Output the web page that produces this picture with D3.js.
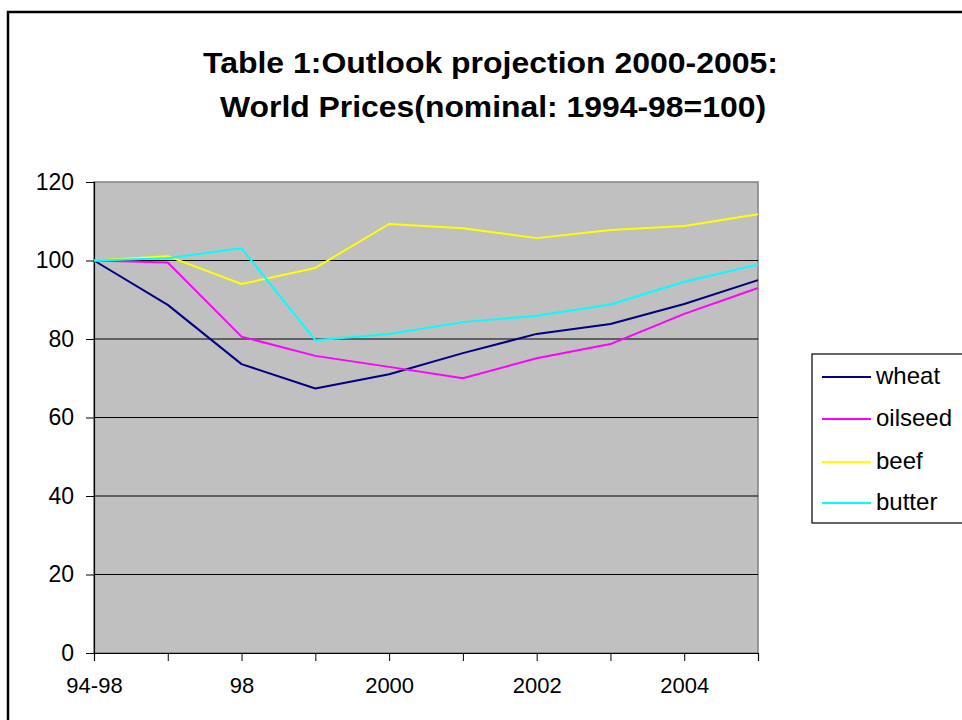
<!DOCTYPE html>
<html>
<head>
<meta charset="utf-8">
<script src="https://cdn.jsdelivr.net/npm/d3@7"></script>
<style>
  html, body { margin: 0; padding: 0; background: #fff; }
  svg { display: block; }
  text { font-family: "Liberation Sans", Arial, sans-serif; }
</style>
</head>
<body>
<svg id="chart" width="962" height="720"></svg>
<script>
const categories = ["94-98", "97", "98", "99", "2000", "2001", "2002", "2003", "2004", "2005"];
const tickLabels = ["94-98", "", "98", "", "2000", "", "2002", "", "2004", ""];
const seriesNames = ["wheat", "oilseed", "beef", "butter"];
const wheat   = [100, 88.7, 73.6, 67.4, 71.0, 76.4, 81.3, 83.8, 88.9, 95.0];
const oilseed = [100, 99.5, 80.6, 75.7, 72.9, 70.0, 75.1, 78.7, 86.4, 93.0];
const beef    = [100, 101.1, 94.0, 98.1, 109.3, 108.2, 105.7, 107.8, 108.8, 111.8];
const butter  = [100, 100.6, 103.1, 79.7, 81.3, 84.3, 85.9, 88.8, 94.6, 99.0];
const yTicks = [0, 20, 40, 60, 80, 100, 120];
const colors = ["#000080", "#FF00FF", "#FFFF00", "#00FFFF"];
const titleLines = ["Table 1:Outlook projection 2000-2005:", "World Prices(nominal: 1994-98=100)"];

const seriesValues = [wheat, oilseed, beef, butter];
const svg = d3.select("#chart");

// outer frame (extends past right/bottom edge)
svg.append("rect").attr("x", 8).attr("y", 12).attr("width", 1000).attr("height", 800)
  .attr("fill", "#fff").attr("stroke", "#000").attr("stroke-width", 2.5);

// title
const titleG = svg.append("g");
titleG.append("text").attr("x", 490.5).attr("y", 73).attr("text-anchor", "middle")
  .attr("font-size", 29).attr("font-weight", "bold")
  .attr("textLength", 575).attr("lengthAdjust", "spacingAndGlyphs").text(titleLines[0]);
titleG.append("text").attr("x", 493).attr("y", 117).attr("text-anchor", "middle")
  .attr("font-size", 29).attr("font-weight", "bold")
  .attr("textLength", 546).attr("lengthAdjust", "spacingAndGlyphs").text(titleLines[1]);

const x = d3.scalePoint().domain(categories).range([94, 758]);
const y = d3.scaleLinear().domain([0, 120]).range([653, 182]);

// plot background
svg.append("rect").attr("x", x.range()[0]).attr("y", y(120))
  .attr("width", x.range()[1] - x.range()[0]).attr("height", y(0) - y(120))
  .attr("fill", "#C0C0C0").attr("stroke", "#808080").attr("stroke-width", 1.5);

// gridlines
svg.append("g").selectAll("line").data(yTicks.filter(d => d > 0 && d < 120)).join("line")
  .attr("x1", x.range()[0]).attr("x2", x.range()[1])
  .attr("y1", d => y(d)).attr("y2", d => y(d))
  .attr("stroke", "#000").attr("stroke-width", 1.2);

// y axis
const yAxis = svg.append("g").attr("transform", `translate(${x.range()[0]},0)`)
  .call(d3.axisLeft(y).tickValues(yTicks).tickSize(8).tickPadding(12));
yAxis.select(".domain").attr("stroke", "#000").attr("stroke-width", 1.2);
yAxis.selectAll(".tick line").attr("stroke", "#000");
yAxis.selectAll(".tick text").attr("font-size", 23).attr("fill", "#000")
  .style("font-family", "'Liberation Sans', Arial, sans-serif");

// x axis
const xAxis = svg.append("g").attr("transform", `translate(0,${y(0)})`)
  .call(d3.axisBottom(x).tickSize(8).tickPadding(16).tickFormat((d, i) => tickLabels[i]));
xAxis.select(".domain").attr("stroke", "#000").attr("stroke-width", 1.2);
xAxis.selectAll(".tick line").attr("stroke", "#000");
xAxis.selectAll(".tick text").attr("font-size", 22).attr("fill", "#000")
  .style("font-family", "'Liberation Sans', Arial, sans-serif");

// lines
const line = d3.line().x((d, i) => x(categories[i])).y(d => y(d));
svg.append("g").selectAll("path").data(seriesValues).join("path")
  .attr("d", d => line(d)).attr("fill", "none")
  .attr("stroke", (d, i) => colors[i]).attr("stroke-width", 2)
  .attr("stroke-linejoin", "round");

// legend
const lg = svg.append("g");
lg.append("rect").attr("x", 812).attr("y", 354).attr("width", 200).attr("height", 169)
  .attr("fill", "#fff").attr("stroke", "#000").attr("stroke-width", 1.2);
const rowY = [377, 419, 462, 503];
seriesNames.forEach((name, i) => {
  lg.append("line").attr("x1", 822).attr("x2", 871).attr("y1", rowY[i]).attr("y2", rowY[i])
    .attr("stroke", colors[i]).attr("stroke-width", 2);
  lg.append("text").attr("x", 876).attr("y", rowY[i] + 7).attr("font-size", 24)
    .attr("fill", "#000").text(name);
});
</script>
</body>
</html>
